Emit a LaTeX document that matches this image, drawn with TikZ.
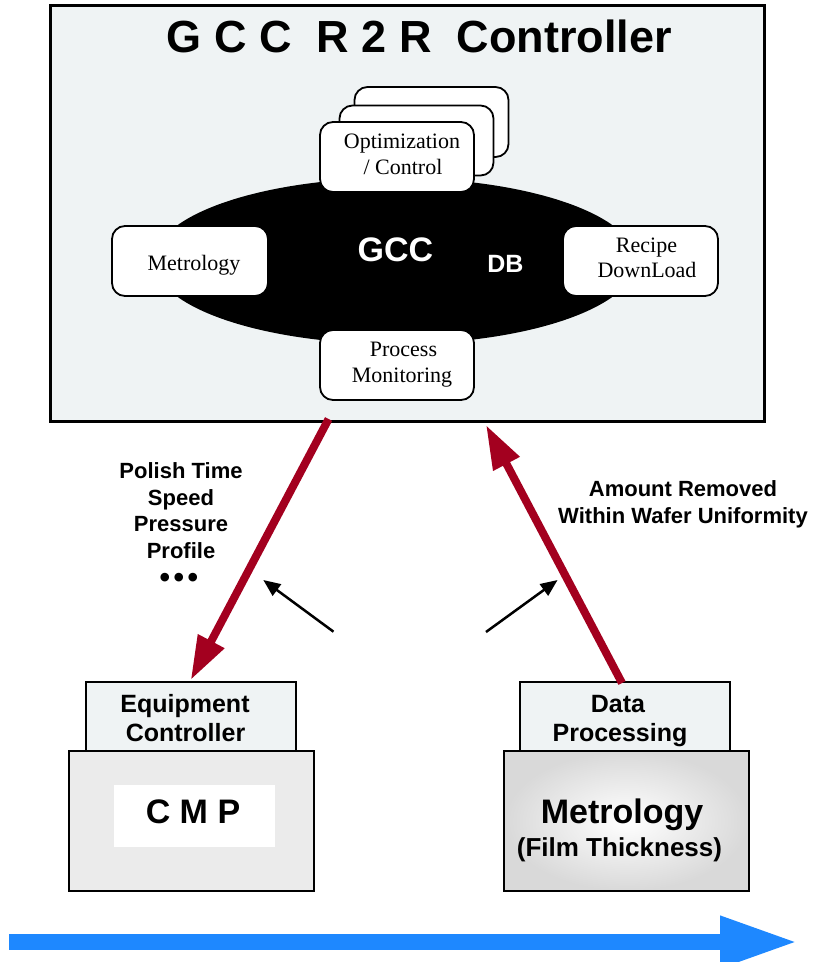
\documentclass[tikz,border=0pt]{standalone}
\usepackage{fontspec}
\setmainfont{Liberation Serif}
\newfontfamily\arialf{Liberation Sans}
\usetikzlibrary{shapes.geometric,arrows.meta}
\definecolor{panel}{HTML}{EFF3F4}
\definecolor{cmpgray}{HTML}{EBEBEB}
\definecolor{darkred}{HTML}{A3001F}
\definecolor{flowblue}{HTML}{1E88FF}
\tikzset{
  rbox/.style={draw, line width=1.8pt, rounded corners=13pt, fill=white,
    minimum width=154pt, minimum height=70pt, inner sep=0pt},
  stxt/.style={font=\fontsize{22}{26}\selectfont, anchor=base, inner sep=0pt},
  btxt/.style={font=\arialf\bfseries\fontsize{25}{29}\selectfont, anchor=base, inner sep=0pt},
  lbl/.style={font=\arialf\bfseries\fontsize{22}{26.4}\selectfont, align=center, anchor=north, inner sep=0pt},
  sqbox/.style={draw, line width=2.4pt, inner sep=0pt},
  redarr/.style={draw=darkred, line width=8pt, -{Triangle[length=44pt,width=28pt]}},
  blkarr/.style={draw=black, line width=2.5pt, -{Triangle[length=17pt,width=14pt]}},
}
\begin{document}
\begin{tikzpicture}[x=1pt,y=-1pt]
\useasboundingbox (0,0) rectangle (815,962);

% main controller panel
\node[draw, line width=3pt, fill=panel, minimum width=714pt, minimum height=416pt, inner sep=0pt] (main) at (407.5,213) {};
\node[font=\arialf\bfseries\fontsize{45}{50}\selectfont, anchor=base, inner sep=0pt] (title) at (419.5,52) {G C C~~R 2 R~~Controller};

% GCC DB ellipse
\node[ellipse, fill=black, minimum width=482pt, minimum height=166pt, inner sep=0pt] (db) at (395,261) {};
\node[font=\arialf\bfseries\fontsize{34}{40}\selectfont, text=white, anchor=base, inner sep=0pt] (gcc) at (395.5,261.5) {GCC};
\node[font=\arialf\bfseries\fontsize{25}{30}\selectfont, text=white, anchor=base, inner sep=0pt] (dbt) at (505.5,272.5) {DB};

% stacked optimization boxes
\node[rbox] (opt3) at (431.5,122) {};
\node[rbox] (opt2) at (416.5,140.5) {};
\node[rbox] (opt) at (397,157) {};
\node[stxt] (opt1t) at (402,148.3) {Optimization};
\node[stxt] (opt2t) at (403,174) {/ Control};

\node[rbox, minimum width=156pt] (met) at (190,261) {};
\node[stxt] (mett) at (194,270) {Metrology};

\node[rbox, minimum width=155pt] (rec) at (640.5,261) {};
\node[stxt] (rec1t) at (646.5,252) {Recipe};
\node[stxt] (rec2t) at (647,277) {DownLoad};

\node[rbox] (pm) at (397,365) {};
\node[stxt] (pm1t) at (403.5,356) {Process};
\node[stxt] (pm2t) at (402,382) {Monitoring};

% bottom left: equipment controller + CMP
\node[sqbox, fill=panel, minimum width=210pt, minimum height=69pt] (ec) at (191,716.5) {};
\node[sqbox, fill=cmpgray, minimum width=245pt, minimum height=140pt] (cmp) at (191.5,821) {};
\node[fill=white, minimum width=161pt, minimum height=62pt, inner sep=0pt] (cmpin) at (194.5,816) {};
\node[btxt] (ec1t) at (185,712.7) {Equipment};
\node[btxt] (ec2t) at (185.5,741.7) {Controller};
\node[btxt, font=\arialf\bfseries\fontsize{34}{40}\selectfont] (cmpt) at (193,823.3) {C M P};

% bottom right: data processing + metrology
\node[sqbox, fill=panel, minimum width=210pt, minimum height=69pt] (dp) at (625,716.5) {};
\node[sqbox, inner color=white, outer color=black!15, minimum width=245pt, minimum height=140pt] (metro) at (626.5,821) {};
\node[btxt] (dp1t) at (618,712.7) {Data};
\node[btxt] (dp2t) at (620,741.7) {Processing};
\node[btxt, font=\arialf\bfseries\fontsize{34}{40}\selectfont] (metrot) at (622,823) {Metrology};
\node[btxt, font=\arialf\bfseries\fontsize{26}{30}\selectfont] (filmt) at (619.5,856) {(Film Thickness)};

% red flow arrows
\coordinate (downS) at (328.6,419);
\coordinate (downE) at (190.7,680);
\coordinate (upS) at (622,683);
\coordinate (upE) at (486,425);
\draw[redarr] (downS) -- (downE);
\draw[redarr] (upS) -- (upE);

% black small arrows
\coordinate (bl1) at (333.5,631.7);
\coordinate (bl2) at (263.3,580);
\coordinate (br1) at (486,632);
\coordinate (br2) at (557.6,580);
\draw[blkarr] (bl1) -- (bl2);
\draw[blkarr] (br1) -- (br2);

% labels
\node[lbl] (leftlbl) at (181,462.7) {Polish Time\\Speed\\Pressure\\Profile};
\node[btxt, font=\arialf\bfseries\fontsize{30}{36}\selectfont] (dots) at (179,587) {•\kern3.5pt•\kern3.5pt•};
\node[lbl, font=\arialf\bfseries\fontsize{22}{26.6}\selectfont] (rightlbl) at (683,480.7) {Amount Removed\\Within Wafer Uniformity};

% blue time arrow
\coordinate (blS) at (9,942);
\coordinate (blE) at (798,942);
\draw[draw=flowblue, line width=16pt, -{Triangle[length=78pt,width=48pt]}] (blS) -- (blE);
\end{tikzpicture}
\end{document}
